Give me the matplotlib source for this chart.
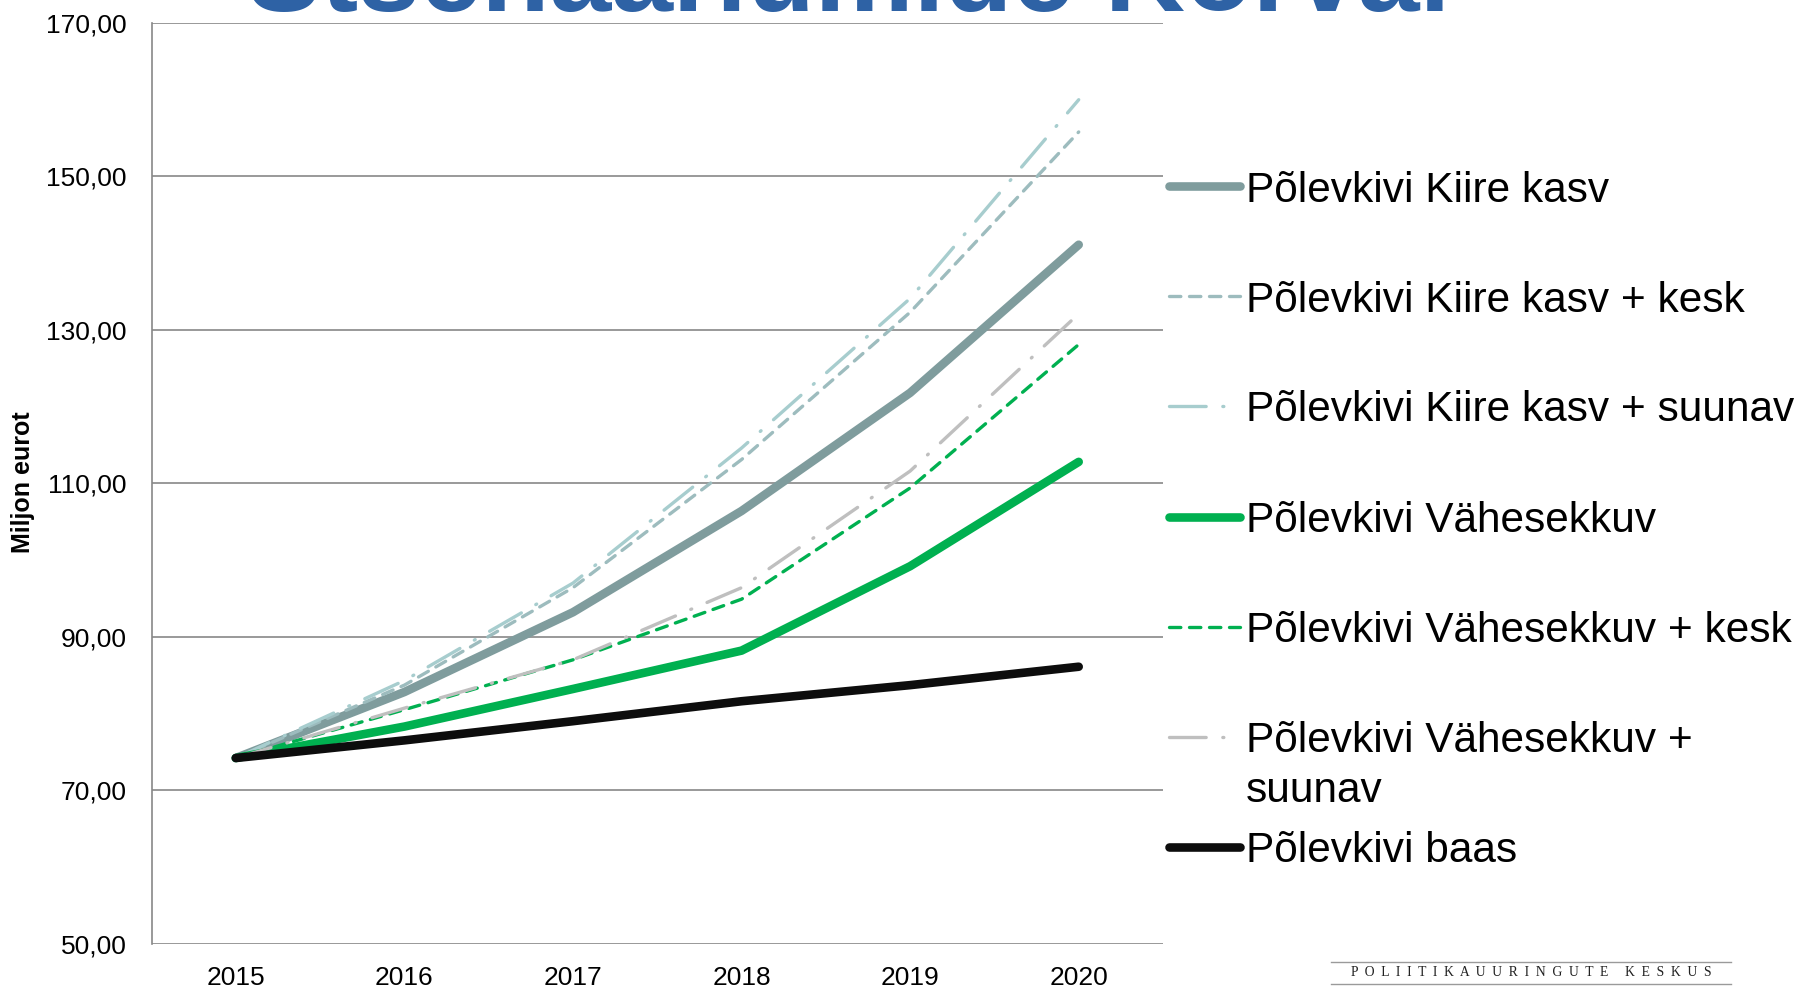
import matplotlib
matplotlib.use("Agg")
import matplotlib.pyplot as plt
from matplotlib.lines import Line2D
from matplotlib.ticker import FuncFormatter

plt.rcParams['font.family'] = ['Liberation Sans', 'DejaVu Sans']

years = ["2015", "2016", "2017", "2018", "2019", "2020"]
series_names = [
    "Põlevkivi Kiire kasv",
    "Põlevkivi Kiire kasv + kesk",
    "Põlevkivi Kiire kasv + suunav",
    "Põlevkivi Vähesekkuv",
    "Põlevkivi Vähesekkuv + kesk",
    "Põlevkivi Vähesekkuv +\nsuunav",
    "Põlevkivi baas",
]
kiire_kasv = [74.2, 82.8, 93.2, 106.4, 121.8, 141.1]
kiire_kasv_kesk = [74.2, 83.7, 96.4, 113.1, 132.3, 155.8]
kiire_kasv_suunav = [74.2, 84.3, 97.0, 114.6, 134.1, 160.0]
vahesekkuv = [74.2, 78.3, 83.2, 88.2, 99.2, 112.8]
vahesekkuv_kesk = [74.2, 80.5, 87.0, 94.9, 109.4, 128.1]
vahesekkuv_suunav = [74.2, 80.7, 87.0, 96.4, 111.6, 132.1]
baas = [74.2, 76.5, 79.0, 81.6, 83.7, 86.1]
y_ticks = [50, 70, 90, 110, 130, 150, 170]

values = [kiire_kasv, kiire_kasv_kesk, kiire_kasv_suunav, vahesekkuv,
          vahesekkuv_kesk, vahesekkuv_suunav, baas]

THICK = 6.2
THIN = 2.4
styles = [
    dict(color="#7F9C9D", lw=THICK, ls="-"),
    dict(color="#9DBCBE", lw=THIN, ls=(0, (3.4, 2.6))),
    dict(color="#A7CDCE", lw=THIN, ls=(0, (11, 5, 0.3, 5))),
    dict(color="#00B050", lw=THICK, ls="-"),
    dict(color="#00B050", lw=THIN, ls=(0, (3.4, 2.6))),
    dict(color="#BFBFBF", lw=THIN, ls=(0, (11, 5, 0.3, 5))),
    dict(color="#0D0D0D", lw=THICK, ls="-"),
]

W, H = 1800, 989
fig = plt.figure(figsize=(18, 9.89), dpi=100)
ax = fig.add_axes([151.5 / W, 1 - 943.7 / H, (1163 - 151.5) / W, (943.7 - 23) / H])

x = list(range(len(years)))
for vals, st in zip(values, styles):
    ax.plot(x, vals, color=st["color"], lw=st["lw"], linestyle=st["ls"],
            solid_capstyle="round", dash_capstyle="round",
            solid_joinstyle="round")

ax.set_xlim(-0.5, len(years) - 0.5)
ax.set_ylim(50, 170)
ax.set_xticks(x)
ax.set_xticklabels(years)
ax.set_yticks(y_ticks)
ax.yaxis.set_major_formatter(FuncFormatter(lambda v, p: f"{v:.2f}".replace(".", ",")))
ax.tick_params(axis="both", length=0, labelsize=19, colors="black")
ax.tick_params(axis="y", pad=18)
ax.tick_params(axis="x", pad=16)
ax.grid(axis="y", color="#878787", lw=1.2)
ax.set_axisbelow(True)
for s in ["top", "right", "bottom"]:
    ax.spines[s].set_visible(False)
ax.spines["left"].set_color("#878787")
ax.spines["left"].set_linewidth(1.2)
ax.set_ylabel("Miljon eurot", fontsize=18, fontweight="bold")
ax.yaxis.set_label_coords(23 / W, 1 - 482 / H, transform=fig.transFigure)
ax.yaxis.label.set_va("center")

# legend (manual, to keep even row pitch)
hx0, hx1, tx = 1169 / W, 1240 / W, 1246 / W
rows_px = [186, 296, 406, 517, 627, 737, 847]
for name, st, ypx in zip(series_names, styles, rows_px):
    yf = 1 - ypx / H
    fig.add_artist(Line2D([hx0, hx1], [yf, yf], transform=fig.transFigure,
                          color=st["color"], lw=st["lw"], linestyle=st["ls"],
                          solid_capstyle="round", dash_capstyle="round"))
    if "\n" in name:
        fig.text(tx, 1 - (ypx + 49 + 16) / H, name, fontsize=30.5, va="baseline",
                 ha="left", linespacing=1.32)
    else:
        fig.text(tx, yf, name, fontsize=30.5, va="center_baseline", ha="left")

# title (cut off at top as in reference)
fig.text(247 / W, 1 - 11 / H, "Stsenaariumide Kõrval", fontsize=80,
         fontweight="bold", color="#2E62A5", ha="left", va="baseline")

# footer logo
fig.add_artist(Line2D([1331 / W, 1731 / W], [1 - 962 / H, 1 - 962 / H],
                      transform=fig.transFigure, color="#9A9A9A", lw=1))
fig.add_artist(Line2D([1331 / W, 1731 / W], [1 - 984 / H, 1 - 984 / H],
                      transform=fig.transFigure, color="#9A9A9A", lw=1))
fig.text(1531 / W, 1 - 973 / H, "P  O  L  I  I  T  I  K  A  U  U  R  I  N  G  U  T  E     K  E  S  K  U  S",
         fontsize=9.8, family=["Liberation Serif", "DejaVu Serif"], ha="center",
         va="center", color="#222222")

fig.savefig("out.png", dpi=100)
